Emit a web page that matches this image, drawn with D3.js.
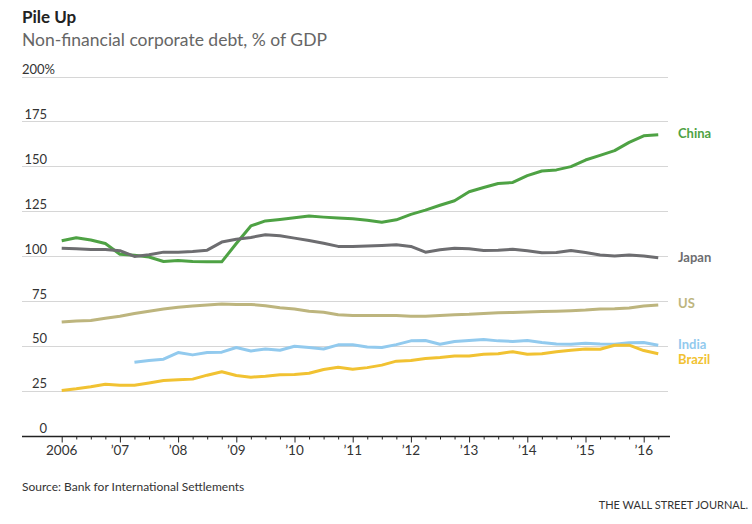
<!DOCTYPE html>
<html>
<head>
<style type="text/css">
body { margin: 0; background: #fff; }
svg text { font-family: Lato, "Open Sans", sans-serif; }
.grid line { stroke: #d6d6d6; stroke-width: 1; }
.series { fill: none; stroke-width: 3; stroke-linejoin: round; }
</style>
<script src="https://d3js.org/d3.v7.min.js"></script>
</head>
<body>
<script type="text/javascript">
var width = 752, height = 524;

// quarterly, 2006Q1 .. 2016Q2
var startYear = 2006;
var china = [108.5, 110.2, 109, 107, 101, 100.5, 99.5, 97, 97.6, 97, 96.8, 96.8,
  107, 116.8, 119.6, 120.4, 121.3, 122.3, 121.7, 121.2, 120.8, 120, 118.8, 120.2,
  123.2, 125.6, 128.3, 130.8, 135.8, 138.2, 140.4, 141, 144.8, 147.4, 148, 149.8,
  153.5, 156.1, 158.7, 163.3, 167, 167.6];
var japan = [104.4, 104.1, 103.7, 103.7, 103, 99.8, 100.7, 102.2, 102.2, 102.6, 103.3, 107.8,
  109.4, 110.4, 111.9, 111.3, 110, 108.7, 107.2, 105.4, 105.4, 105.6, 105.9, 106.3,
  105.4, 102.2, 103.5, 104.4, 104.1, 103.1, 103.3, 103.8, 103, 101.9, 102, 103.1,
  102, 100.6, 100, 100.6, 100, 99.1];
var us = [63.3, 63.9, 64.1, 65.4, 66.5, 68, 69.3, 70.6, 71.5, 72.2, 72.8, 73.3,
  73.1, 73.1, 72.4, 71.3, 70.6, 69.3, 68.7, 67.4, 66.9, 66.9, 66.9, 66.9,
  66.5, 66.5, 66.9, 67.4, 67.6, 68.1, 68.5, 68.6, 68.9, 69.1, 69.3, 69.6,
  70, 70.6, 70.7, 71.1, 72.2, 72.8];
var india = [null, null, null, null, null, 40.9, 41.9, 42.6, 46.3, 45, 46.3, 46.5,
  49.1, 47.2, 48.3, 47.6, 49.8, 49.1, 48.3, 50.6, 50.6, 49.4, 49.1, 50.7,
  52.8, 53, 50.9, 52.4, 53, 53.5, 52.8, 52.5, 53, 51.9, 51.1, 50.9,
  51.5, 51.1, 50.9, 51.7, 51.9, 50.4];
var brazil = [25.2, 26.1, 27.2, 28.7, 28.1, 28.1, 29.4, 30.7, 31.1, 31.5, 33.7, 35.6,
  33.5, 32.6, 33.1, 33.9, 34.1, 34.8, 36.9, 38.1, 37, 37.9, 39.3, 41.5,
  41.9, 43, 43.5, 44.4, 44.4, 45.4, 45.6, 46.8, 45.4, 45.6, 46.7, 47.6,
  48.3, 48.1, 50.4, 50.4, 47.4, 45.6];

var seriesNames = ["China", "Japan", "US", "India", "Brazil"];
var seriesColors = ["#4ea244", "#6d6d70", "#bdb57e", "#92caee", "#f1c232"];
var seriesValues = [china, japan, us, india, brazil];
var labelYs = [133, 257, 303, 344, 359];

var yTicks = [0, 25, 50, 75, 100, 125, 150, 175, 200];
var xYears = [2006, 2007, 2008, 2009, 2010, 2011, 2012, 2013, 2014, 2015, 2016];
var xLabels = ["2006", "\u201907", "\u201908", "\u201909", "\u201910", "\u201911", "\u201912", "\u201913", "\u201914", "\u201915", "\u201916"];

var svg = d3.select("body").append("svg").attr("width", width).attr("height", height);

var x = d3.scaleLinear().domain([2006, 2016]).range([61.7, 643.7]);
var y = d3.scaleLinear().domain([0, 200]).range([435.7, 76.5]);
var left = 22, right = 668;

svg.append("text").attr("x", 22).attr("y", 23)
  .style("font-size", "17px").style("font-weight", "bold").attr("fill", "#222")
  .text("Pile Up");
svg.append("text").attr("x", 22).attr("y", 46)
  .style("font-size", "17.5px").attr("fill", "#666")
  .text("Non-financial corporate debt, % of GDP");

// gridlines
var grid = svg.append("g").attr("class", "grid");
grid.selectAll("line").data(yTicks.filter(function(d) { return d > 0; })).enter().append("line")
  .attr("x1", left).attr("x2", right)
  .attr("y1", function(d) { return Math.round(y(d)) + 0.5; })
  .attr("y2", function(d) { return Math.round(y(d)) + 0.5; });

svg.selectAll(".ylab").data(yTicks).enter().append("text")
  .attr("class", "ylab")
  .attr("x", 47).attr("y", function(d) { return y(d) - 2.5; })
  .style("font-size", "13px").attr("fill", "#333")
  .attr("text-anchor", function(d) { return d === 200 ? "start" : "end"; })
  .attr("dx", function(d) { return d === 200 ? -25 : 0; })
  .text(function(d) { return d === 200 ? "200%" : d; });

// x axis
var quarters = d3.range(2006, 2016.26, 0.25);
var xAxis = d3.axisBottom(x).tickValues(quarters)
  .tickSize(3).tickFormat("");
var ax = svg.append("g").attr("transform", "translate(0," + (Math.round(y(0)) + 0.5) + ")").call(xAxis);
ax.select(".domain").remove();
ax.selectAll(".tick line").attr("stroke", "#222")
  .attr("y2", function(d) { return Math.abs(d - Math.round(d)) < 0.01 ? 6 : 3; });
ax.append("line").attr("x1", left).attr("x2", right + 2).attr("stroke", "#222").attr("stroke-width", 1.3);

svg.selectAll(".xlab").data(xYears).enter().append("text")
  .attr("class", "xlab")
  .attr("x", function(d) { return x(d); }).attr("y", 455)
  .attr("text-anchor", "middle")
  .style("font-size", "13.5px").attr("fill", "#333")
  .text(function(d, i) { return xLabels[i]; });

// lines
var line = d3.line()
  .defined(function(d) { return d != null; })
  .x(function(d, i) { return x(startYear + i * 0.25); })
  .y(function(d) { return y(d); });

seriesValues.forEach(function(vals, k) {
  svg.append("path").datum(vals)
    .attr("class", "series")
    .attr("stroke", seriesColors[k])
    .attr("d", line);
  svg.append("text").attr("x", 678).attr("y", labelYs[k] + 5)
    .style("font-size", "13px").style("font-weight", "bold")
    .attr("fill", seriesColors[k])
    .text(seriesNames[k]);
});

svg.append("text").attr("x", 22).attr("y", 491)
  .style("font-size", "12px").attr("fill", "#333")
  .text("Source: Bank for International Settlements");
svg.append("text").attr("x", 748).attr("y", 509).attr("text-anchor", "end")
  .style("font-size", "11px").attr("fill", "#333")
  .text("THE WALL STREET JOURNAL.");
</script>
</body>
</html>
